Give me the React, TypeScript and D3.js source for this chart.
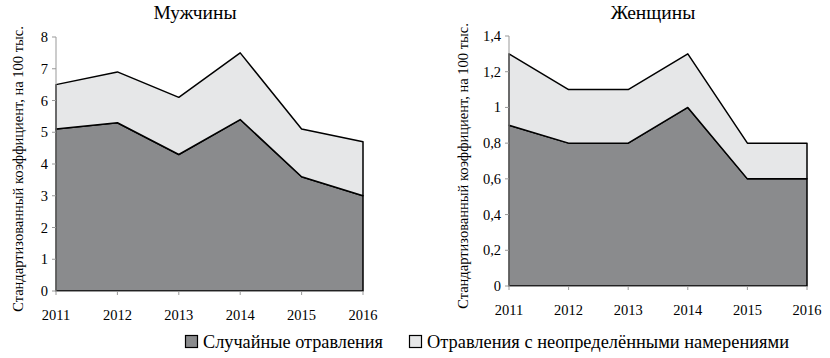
import { useMemo } from "react";
import * as d3 from "d3";

const WIDTH = 830;
const HEIGHT = 358;

const YEARS = [2011, 2012, 2013, 2014, 2015, 2016];
const MEN_ACCIDENTAL = [5.1, 5.3, 4.3, 5.4, 3.6, 3.0];
const MEN_UNDETERMINED = [1.4, 1.6, 1.8, 2.1, 1.5, 1.7];
const WOMEN_ACCIDENTAL = [0.9, 0.8, 0.8, 1.0, 0.6, 0.6];
const WOMEN_UNDETERMINED = [0.4, 0.3, 0.3, 0.3, 0.2, 0.2];
const MEN_TICKS = [0, 1, 2, 3, 4, 5, 6, 7, 8];
const WOMEN_TICKS = [0, 0.2, 0.4, 0.6, 0.8, 1, 1.2, 1.4];
const SERIES_NAMES = ["Случайные отравления", "Отравления с неопределёнными намерениями"];
const COLORS = ["#8a8b8d", "#e6e7e8"];
const Y_TITLE = "Стандартизованный коэффициент, на 100 тыс.";

const FONT = "Liberation Serif, serif";

type Row = { year: number; a: number; u: number };

type PanelProps = {
  title: string;
  accidental: number[];
  undetermined: number[];
  ticks: number[];
  yMax: number;
  left: number;
  right: number;
  top: number;
  bottom: number;
  titleX: number;
  axisTitleX: number;
};

function Panel(p: PanelProps) {
  const x = d3.scaleLinear().domain([2011, 2016]).range([p.left, p.right]);
  const y = d3.scaleLinear().domain([0, p.yMax]).range([p.bottom, p.top]);

  const stacked = useMemo(() => {
    const rows: Row[] = YEARS.map((yr, i) => ({ year: yr, a: p.accidental[i], u: p.undetermined[i] }));
    return d3.stack<Row>().keys(["a", "u"])(rows);
  }, [p.accidental, p.undetermined]);

  const area = d3
    .area<d3.SeriesPoint<Row>>()
    .x((d) => x(d.data.year))
    .y0((d) => y(d[0]))
    .y1((d) => y(d[1]));

  const fmt = (v: number) => String(+v.toFixed(1)).replace(".", ",");

  return (
    <g fontFamily={FONT}>
      <text x={p.titleX} y={19} textAnchor="middle" fontSize={19.5}>
        {p.title}
      </text>
      <text
        transform={`translate(${p.axisTitleX},${(p.top + p.bottom) / 2 + 5}) rotate(-90)`}
        textAnchor="middle"
        fontSize={14.5}
      >
        {Y_TITLE}
      </text>
      {stacked.map((s, i) => (
        <path
          key={i}
          d={area(s) ?? ""}
          fill={COLORS[i]}
          stroke="#000"
          strokeWidth={1.5}
          strokeLinejoin="round"
        />
      ))}
      <line x1={p.left} x2={p.left} y1={p.top} y2={p.bottom} stroke="#999" strokeWidth={1} />
      <line x1={p.left} x2={p.right} y1={p.bottom + 0.5} y2={p.bottom + 0.5} stroke="#999" strokeWidth={1} />
      {p.ticks.map((t) => (
        <g key={t}>
          <line x1={p.left - 4} x2={p.left} y1={y(t)} y2={y(t)} stroke="#999" />
          <text x={p.left - 8} y={y(t) + 5} textAnchor="end" fontSize={14.5}>
            {fmt(t)}
          </text>
        </g>
      ))}
      {YEARS.map((yr) => (
        <g key={yr}>
          <line x1={x(yr)} x2={x(yr)} y1={p.bottom} y2={p.bottom + 4} stroke="#999" />
          <text x={x(yr)} y={p.bottom + 29} textAnchor="middle" fontSize={14.5}>
            {yr}
          </text>
        </g>
      ))}
    </g>
  );
}

const LEGEND_POS = [
  { box: 185, text: 203, len: 180 },
  { box: 409, text: 427, len: 362 },
];

export default function App() {
  return (
    <svg
      width={WIDTH}
      height={HEIGHT}
      style={{ position: "absolute", left: 0, top: 0, background: "#fff" }}
    >
      <Panel
        title="Мужчины"
        accidental={MEN_ACCIDENTAL}
        undetermined={MEN_UNDETERMINED}
        ticks={MEN_TICKS}
        yMax={8}
        left={56}
        right={363}
        top={37}
        bottom={291}
        titleX={195}
        axisTitleX={23}
      />
      <Panel
        title="Женщины"
        accidental={WOMEN_ACCIDENTAL}
        undetermined={WOMEN_UNDETERMINED}
        ticks={WOMEN_TICKS}
        yMax={1.4}
        left={509}
        right={807}
        top={36}
        bottom={286}
        titleX={653}
        axisTitleX={468}
      />
      {SERIES_NAMES.map((name, i) => {
        const pos = LEGEND_POS[i];
        return (
          <g key={name} fontFamily={FONT}>
            <rect
              x={pos.box + 0.5}
              y={335.5}
              width={12}
              height={12}
              fill={COLORS[i]}
              stroke="#000"
              strokeWidth={1.2}
            />
            <text x={pos.text} y={348} fontSize={18} textLength={pos.len} lengthAdjust="spacingAndGlyphs">
              {name}
            </text>
          </g>
        );
      })}
    </svg>
  );
}
